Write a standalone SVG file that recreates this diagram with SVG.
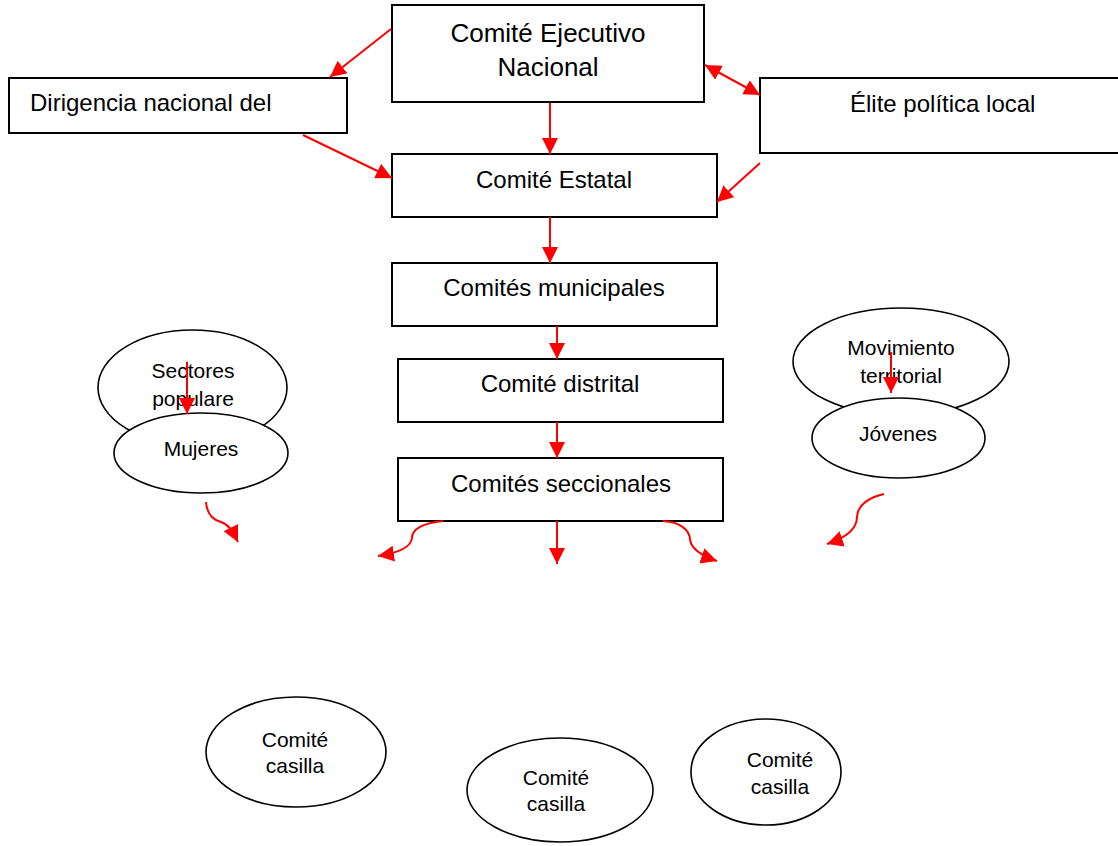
<svg xmlns="http://www.w3.org/2000/svg" width="1118" height="846" viewBox="0 0 1118 846">
  <style>
    .box { fill: #ffffff; stroke: #000000; stroke-width: 2; }
    .oval { fill: #ffffff; stroke: #000000; stroke-width: 1.6; }
    .lbl { font-family: "Liberation Sans", Arial, sans-serif; fill: #000000; }
    .big { font-size: 26px; }
    .mid { font-size: 24px; }
    .sm { font-size: 21px; }
    .link { fill: none; stroke: #ff0000; stroke-width: 2; }
  </style>
  <defs>
    <marker id="head" viewBox="0 0 16 16" markerWidth="16" markerHeight="16" refX="16" refY="8" orient="auto-start-reverse" markerUnits="userSpaceOnUse">
      <path d="M0,0 L16,8 L0,16 z" fill="#ff0000"/>
    </marker>
  </defs>
  <rect width="1118" height="846" fill="#ffffff"/>

  <!-- party structure boxes -->
  <g id="comite-ejecutivo-nacional">
    <rect class="box" x="392" y="5" width="312" height="97"/>
    <text class="lbl big" x="548" y="42" text-anchor="middle">Comité Ejecutivo</text>
    <text class="lbl big" x="548" y="76" text-anchor="middle">Nacional</text>
  </g>
  <g id="dirigencia-nacional">
    <rect class="box" x="9" y="78" width="338" height="55"/>
    <text class="lbl mid" x="30" y="111">Dirigencia nacional del</text>
  </g>
  <g id="elite-politica-local">
    <rect class="box" x="760" y="78" width="370" height="75"/>
    <text class="lbl mid" x="850" y="112">Élite política local</text>
  </g>
  <g id="comite-estatal">
    <rect class="box" x="392" y="154" width="325" height="63"/>
    <text class="lbl mid" x="554" y="188" text-anchor="middle">Comité Estatal</text>
  </g>
  <g id="comites-municipales">
    <rect class="box" x="392" y="263" width="325" height="63"/>
    <text class="lbl mid" x="554" y="296" text-anchor="middle">Comités municipales</text>
  </g>
  <g id="comite-distrital">
    <rect class="box" x="398" y="359" width="325" height="63"/>
    <text class="lbl mid" x="560" y="392" text-anchor="middle">Comité distrital</text>
  </g>
  <g id="comites-seccionales">
    <rect class="box" x="398" y="458" width="325" height="63"/>
    <text class="lbl mid" x="561" y="492" text-anchor="middle">Comités seccionales</text>
  </g>

  <!-- sector ovals -->
  <g id="sectores-populares">
    <ellipse class="oval" cx="192.5" cy="387.5" rx="94.5" ry="57.5"/>
    <text class="lbl sm" x="193" y="378" text-anchor="middle">Sectores</text>
    <text class="lbl sm" x="193" y="406" text-anchor="middle">populare</text>
  </g>
  <g id="movimiento-territorial">
    <ellipse class="oval" cx="901" cy="361.5" rx="108" ry="53.5"/>
    <text class="lbl sm" x="901" y="355" text-anchor="middle">Movimiento</text>
    <text class="lbl sm" x="901" y="383" text-anchor="middle">territorial</text>
  </g>
  <g id="mujeres">
    <ellipse class="oval" cx="201" cy="453" rx="87" ry="40"/>
    <text class="lbl sm" x="201" y="456" text-anchor="middle">Mujeres</text>
  </g>
  <g id="jovenes">
    <ellipse class="oval" cx="898.5" cy="438" rx="86.5" ry="40"/>
    <text class="lbl sm" x="898" y="441" text-anchor="middle">Jóvenes</text>
  </g>

  <!-- polling-station committees -->
  <g id="comite-casilla-1">
    <ellipse class="oval" cx="296" cy="752" rx="90" ry="55"/>
    <text class="lbl sm" x="295" y="747" text-anchor="middle">Comité</text>
    <text class="lbl sm" x="295" y="773" text-anchor="middle">casilla</text>
  </g>
  <g id="comite-casilla-2">
    <ellipse class="oval" cx="560" cy="790" rx="93" ry="52"/>
    <text class="lbl sm" x="556" y="785" text-anchor="middle">Comité</text>
    <text class="lbl sm" x="556" y="811" text-anchor="middle">casilla</text>
  </g>
  <g id="comite-casilla-3">
    <ellipse class="oval" cx="766" cy="772" rx="75" ry="53"/>
    <text class="lbl sm" x="780" y="767" text-anchor="middle">Comité</text>
    <text class="lbl sm" x="780" y="794" text-anchor="middle">casilla</text>
  </g>

  <!-- connectors -->
  <g id="connectors">
    <line class="link" x1="391" y1="29" x2="330" y2="77" marker-end="url(#head)"/>
    <line class="link" x1="303" y1="135" x2="392" y2="178" marker-end="url(#head)"/>
    <line class="link" x1="550" y1="103" x2="550" y2="154" marker-end="url(#head)"/>
    <line class="link" x1="705" y1="65" x2="760" y2="95" marker-start="url(#head)" marker-end="url(#head)"/>
    <line class="link" x1="760" y1="163" x2="717" y2="202" marker-end="url(#head)"/>
    <line class="link" x1="550" y1="217" x2="550" y2="263" marker-end="url(#head)"/>
    <line class="link" x1="557" y1="326" x2="557" y2="359" marker-end="url(#head)"/>
    <line class="link" x1="557" y1="422" x2="557" y2="458" marker-end="url(#head)"/>
    <line class="link" x1="187" y1="362" x2="187" y2="414" marker-end="url(#head)"/>
    <line class="link" x1="891" y1="352" x2="891" y2="393" marker-end="url(#head)"/>
    <line class="link" x1="557" y1="521" x2="557" y2="564" marker-end="url(#head)"/>
    <path class="link" d="M206,502 C207,514 213,520 221,522 C228,524 232,530 238,542" marker-end="url(#head)"/>
    <path class="link" d="M443,521 C425,523 412,528 412,538 C411,547 398,553 378,556" marker-end="url(#head)"/>
    <path class="link" d="M663,521 C680,522 690,530 690,540 C692,550 702,556 717,561" marker-end="url(#head)"/>
    <path class="link" d="M884,494 C870,497 857,505 857,517 C857,529 845,538 827,544" marker-end="url(#head)"/>
  </g>
</svg>
